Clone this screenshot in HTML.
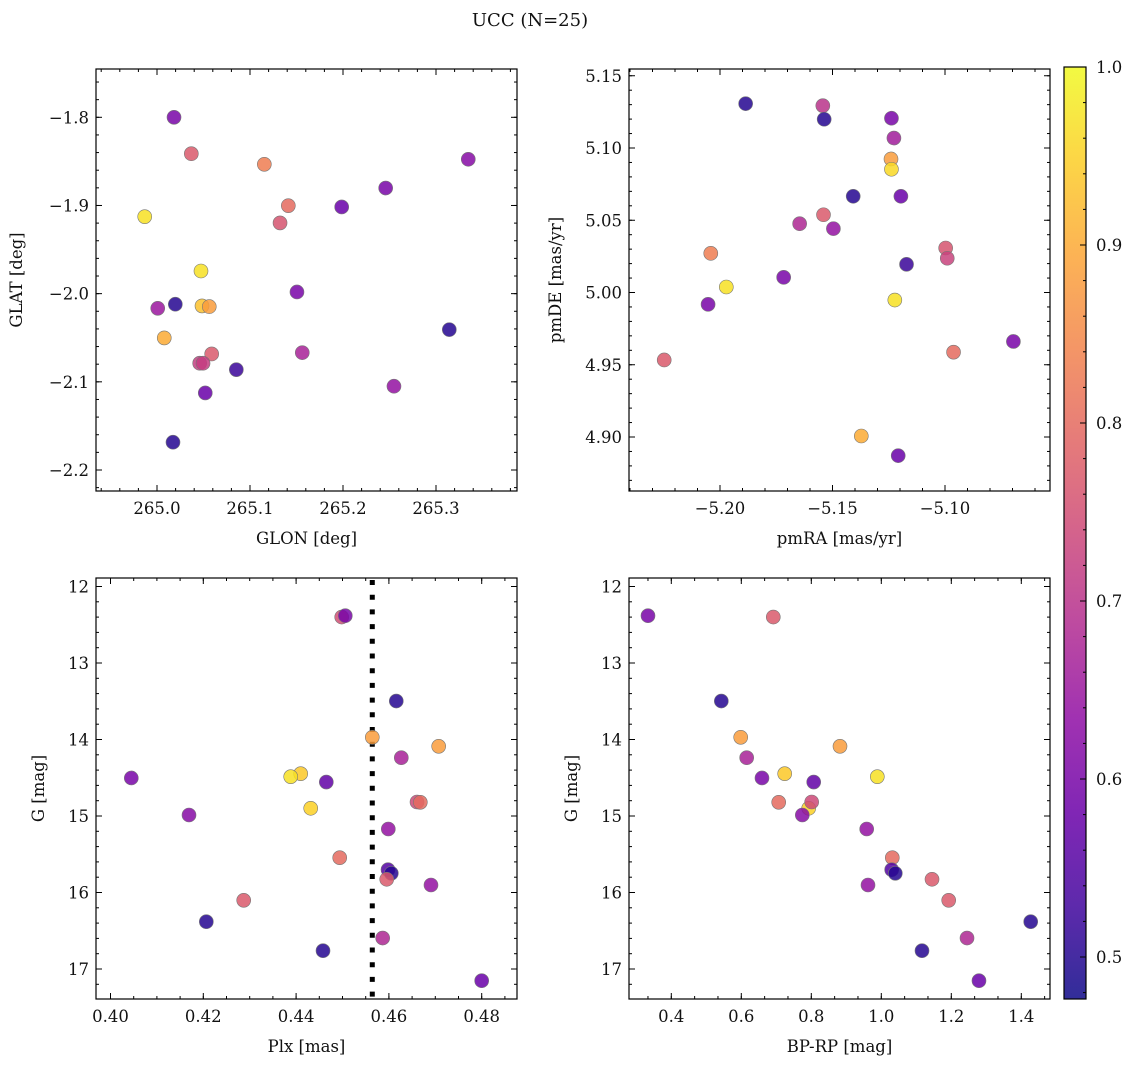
<!DOCTYPE html>
<html><head><meta charset="utf-8"><style>
html,body{margin:0;padding:0;background:#fff;}
svg text{font-family:"DejaVu Serif","Liberation Serif",serif;fill:#111;}
</style></head><body>
<svg id="fig" width="1136" height="1067" xmlns="http://www.w3.org/2000/svg">
<text x="530" y="26" font-size="18" text-anchor="middle">UCC (N=25)</text>
</svg>
<script>
// ---- data ----
const prob1 = [0.6,0.77,0.83,0.62,0.6,0.97,0.8,0.58,0.76,0.97,0.6,0.65,0.5,0.93,0.88,0.5,0.9,0.77,0.72,0.72,0.67,0.52,0.58,0.64,0.5];
const glon = [265.0183,265.0369,265.1154,265.3347,265.2459,264.9868,265.1412,265.1986,265.1323,265.0473,265.1505,265.0008,265.0197,265.0484,265.0562,265.3143,265.0078,265.0588,265.0459,265.0495,265.1562,265.0853,265.0519,265.2548,265.0172];
const glat = [-1.800,-1.8413,-1.8533,-1.8476,-1.8802,-1.9127,-1.9002,-1.9017,-1.9198,-1.9743,-1.9981,-2.0166,-2.0120,-2.0139,-2.0147,-2.0408,-2.0502,-2.0684,-2.0789,-2.0789,-2.0669,-2.0862,-2.1126,-2.105,-2.1685];
const prob2 = [0.5,0.7,0.5,0.6,0.66,0.88,0.96,0.5,0.58,0.68,0.77,0.64,0.83,0.76,0.73,0.52,0.6,0.97,0.6,0.97,0.77,0.8,0.6,0.9,0.58];
const pmra = [-5.1886,-5.1543,-5.1537,-5.1238,-5.1227,-5.1240,-5.1238,-5.1408,-5.1196,-5.1646,-5.1540,-5.1496,-5.2041,-5.0997,-5.0990,-5.1171,-5.1717,-5.1972,-5.2053,-5.1223,-5.2248,-5.0962,-5.0696,-5.1372,-5.1208];
const pmde = [5.1307,5.1293,5.1199,5.1206,5.1069,5.0924,5.0853,5.0666,5.0666,5.0476,5.0538,5.0442,5.0271,5.0308,5.0237,5.0195,5.0105,5.0038,4.9918,4.9948,4.9533,4.9587,4.9661,4.9007,4.8871];
const prob3 = [0.75,0.6,0.5,0.88,0.88,0.67,0.94,0.97,0.6,0.57,0.95,0.74,0.8,0.62,0.64,0.8,0.55,0.5,0.77,0.64,0.77,0.5,0.68,0.5,0.58];
const plx = [0.44983,0.45060,0.46159,0.45642,0.47073,0.46267,0.44099,0.43884,0.40448,0.44651,0.44315,0.46606,0.46677,0.41692,0.45987,0.44940,0.45981,0.46052,0.45953,0.46907,0.42871,0.42065,0.45866,0.44580,0.48000];
const gmag3 = [12.399,12.382,13.497,13.971,14.089,14.238,14.447,14.486,14.503,14.556,14.899,14.817,14.821,14.987,15.170,15.545,15.702,15.749,15.827,15.902,16.102,16.382,16.595,16.761,17.153];
const plxMedian = [0.45642];
const prob4 = [0.6,0.77,0.5,0.88,0.88,0.67,0.94,0.97,0.6,0.57,0.95,0.74,0.8,0.62,0.64,0.8,0.55,0.5,0.77,0.64,0.77,0.5,0.68,0.5,0.58];
const bprp = [0.3334,0.6914,0.5429,0.5983,0.8820,0.6154,0.7240,0.9886,0.6591,0.8069,0.7926,0.8011,0.7069,0.7743,0.9583,1.0314,1.0297,1.0400,1.1449,0.9620,1.1926,1.4269,1.2449,1.1163,1.2791];
const gmag4 = [12.382,12.399,13.497,13.971,14.089,14.238,14.447,14.486,14.503,14.556,14.899,14.817,14.821,14.987,15.170,15.545,15.702,15.749,15.827,15.902,16.102,16.382,16.595,16.761,17.153];
const cbTicks = [0.5,0.6,0.7,0.8,0.9,1.0];

const NS="http://www.w3.org/2000/svg";
const svg=document.getElementById('fig');
const FS=16.5;
function mk(tag,attrs,parent){const e=document.createElementNS(NS,tag);for(const k in attrs)e.setAttribute(k,attrs[k]);(parent||svg).appendChild(e);return e;}
const stops=[[13,8,135],[65,4,157],[106,0,168],[143,13,164],[177,42,144],[204,71,120],[225,100,98],[242,132,75],[252,166,54],[252,206,37],[240,249,33]];
const VMIN=0.476,VMAX=1.0;
function plasma(v){let t=(v-VMIN)/(VMAX-VMIN);t=Math.max(0,Math.min(1,t))*10;const i=Math.min(9,Math.floor(t)),f=t-i;const a=stops[i],b=stops[i+1];return 'rgb('+[0,1,2].map(k=>Math.round(a[k]+(b[k]-a[k])*f)).join(',')+')';}
function fmt(v,d){return (v<0?'\u2212':'')+Math.abs(v).toFixed(d);}

function panel(o){
  const g=mk('g',{});
  
  
  const sx=v=>o.x0+(v-o.xa)/(o.xb-o.xa)*(o.x1-o.x0);
  const sy=v=>o.y0+(v-o.ya)/(o.yb-o.ya)*(o.y1-o.y0);
  for(let k=0;k<400;k++){const v=o.xminStart+k*o.xminor;if(v>o.xmax+1e-9)break;const x=sx(v);if(x<o.L+0.5||x>o.R-0.5)continue;
    mk('line',{x1:x,x2:x,y1:o.B,y2:o.B-3,stroke:'#000','stroke-width':1},g);mk('line',{x1:x,x2:x,y1:o.T,y2:o.T+3,stroke:'#000','stroke-width':1},g);}
  for(let k=0;k<400;k++){const v=o.yminStart+k*o.yminor;if(v>o.ymax+1e-9)break;const y=sy(v);if(y<o.T+0.5||y>o.B-0.5)continue;
    mk('line',{x1:o.L,x2:o.L+3,y1:y,y2:y,stroke:'#000','stroke-width':1},g);mk('line',{x1:o.R,x2:o.R-3,y1:y,y2:y,stroke:'#000','stroke-width':1},g);}
  o.xticks.forEach(v=>{const x=sx(v);
    mk('line',{x1:x,x2:x,y1:o.B,y2:o.B-6,stroke:'#000','stroke-width':1},g);mk('line',{x1:x,x2:x,y1:o.T,y2:o.T+6,stroke:'#000','stroke-width':1},g);
    const t=mk('text',{x:x,y:o.B+23,'font-size':FS,'text-anchor':'middle'},g);t.textContent=fmt(v,o.xd);
    
    });
  o.yticks.forEach(v=>{const y=sy(v);
    mk('line',{x1:o.L,x2:o.L+6,y1:y,y2:y,stroke:'#000','stroke-width':1},g);mk('line',{x1:o.R,x2:o.R-6,y1:y,y2:y,stroke:'#000','stroke-width':1},g);
    const t=mk('text',{x:o.L-7,y:y+6,'font-size':FS,'text-anchor':'end'},g);t.textContent=fmt(v,o.yd);
    
    });
  const xl=mk('text',{x:(o.L+o.R)/2,y:o.B+53,'font-size':FS,'text-anchor':'middle'},g);xl.textContent=o.xlabel;
  
  
  const yl=mk('text',{x:0,y:0,'font-size':FS,'text-anchor':'middle',transform:`translate(${o.L-o.ylOff},${(o.T+o.B)/2}) rotate(-90)`},g);yl.textContent=o.ylabel;
  
  
  if(o.vline){const x=sx(o.vline[0]);const l=mk('line',{x1:x,x2:x,y1:o.T+2,y2:o.B,stroke:'#000','stroke-width':5,'stroke-dasharray':'5,9.7'},g);
    
    }
  o.xs.forEach((xv,i)=>{const c=mk('circle',{cx:sx(xv),cy:sy(o.ys[i]),r:7,fill:plasma(o.cs[i]),'fill-opacity':0.85,stroke:'#777','stroke-width':0.6},g);
    
    });
  const f=mk('rect',{x:o.L,y:o.T,width:o.R-o.L,height:o.B-o.T,fill:'none',stroke:'#000','stroke-width':1.2},g);
  
  
}
panel({name:'glon-glat-panel',L:96,R:517,T:69,B:491,x0:157,x1:436,xa:265.0,xb:265.3,y0:117.3,y1:470,ya:-1.8,yb:-2.2,
  xticks:[265.0,265.1,265.2,265.3],xd:1,yticks:[-1.8,-1.9,-2.0,-2.1,-2.2],yd:1,
  xminStart:264.92,xmax:265.4,xminor:0.02,yminStart:-2.24,ymax:-1.74,yminor:0.02,
  xlabel:'GLON [deg]',ylabel:'GLAT [deg]',ylOff:74,xs:glon,ys:glat,cs:prob1});
panel({name:'pm-panel',L:629,R:1050,T:69,B:491,x0:720,x1:945,xa:-5.20,xb:-5.10,y0:148,y1:437,ya:5.10,yb:4.90,
  xticks:[-5.20,-5.15,-5.10],xd:2,yticks:[5.15,5.10,5.05,5.00,4.95,4.90],yd:2,
  xminStart:-5.25,xmax:-5.04,xminor:0.01,yminStart:4.86,ymax:5.17,yminor:0.01,
  xlabel:'pmRA [mas/yr]',ylabel:'pmDE [mas/yr]',ylOff:68,xs:pmra,ys:pmde,cs:prob2});
panel({name:'plx-g-panel',L:96,R:517,T:578,B:999,x0:203.3,x1:481.7,xa:0.42,xb:0.48,y0:663,y1:969,ya:13,yb:17,
  xticks:[0.40,0.42,0.44,0.46,0.48],xd:2,yticks:[12,13,14,15,16,17],yd:0,
  xminStart:0.39,xmax:0.49,xminor:0.005,yminStart:11.8,ymax:17.6,yminor:0.2,
  xlabel:'Plx [mas]',ylabel:'G [mag]',ylOff:52,xs:plx,ys:gmag3,cs:prob3,vline:plxMedian});
panel({name:'cmd-panel',L:629,R:1050,T:578,B:999,x0:671.3,x1:1021.3,xa:0.4,xb:1.4,y0:663,y1:969,ya:13,yb:17,
  xticks:[0.4,0.6,0.8,1.0,1.2,1.4],xd:1,yticks:[12,13,14,15,16,17],yd:0,
  xminStart:0.2,xmax:1.6,xminor:0.2/3,yminStart:11.8,ymax:17.6,yminor:0.2,
  xlabel:'BP-RP [mag]',ylabel:'G [mag]',ylOff:52,xs:bprp,ys:gmag4,cs:prob4});
(function(){
  const L=1064,R=1086,T=67,B=999;const sy=v=>957+(v-0.5)/(1.0-0.5)*(67-957);
  const g=mk('g',{});
  
  
  const defs=mk('defs',{},g);const lg=mk('linearGradient',{id:'cbg',x1:0,y1:1,x2:0,y2:0},defs);
  for(let i=0;i<=20;i++){const v=VMIN+(VMAX-VMIN)*i/20;mk('stop',{offset:i/20,'stop-color':plasma(v),'stop-opacity':0.85},lg);}
  mk('rect',{x:L,y:T,width:R-L,height:B-T,fill:'url(#cbg)'},g);
  for(let v=0.48;v<=1.0001;v+=0.02){const y=sy(v);mk('line',{x1:R,x2:R-3,y1:y,y2:y,stroke:'#000'},g);}
  cbTicks.forEach(v=>{const y=sy(v);mk('line',{x1:R,x2:R-6,y1:y,y2:y,stroke:'#000'},g);
    const t=mk('text',{x:R+10,y:y+6,'font-size':FS},g);t.textContent=v.toFixed(1);
    
    });
  mk('rect',{x:L,y:T,width:R-L,height:B-T,fill:'none',stroke:'#000','stroke-width':1.2},g);
})();
</script>
</body></html>
